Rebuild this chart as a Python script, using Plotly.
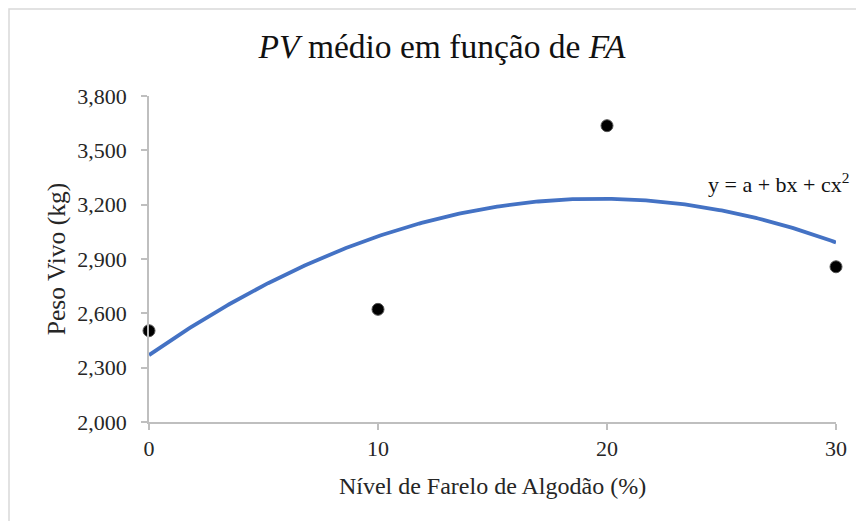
import numpy as np
import plotly.graph_objects as go

# Data
fa_levels = [0, 10, 20, 30]            # Nível de Farelo de Algodão (%)
pv_means = [2504, 2622, 3636, 2857]    # Peso Vivo médio (kg)
x_ticks = [0, 10, 20, 30]
y_ticks = [2000, 2300, 2600, 2900, 3200, 3500, 3800]

# Quadratic trendline (least squares fit of the points)
coef = np.polyfit(fa_levels, pv_means, 2)
x_fit = np.linspace(0, 30, 301)
y_fit = np.polyval(coef, x_fit)

FONT = "Liberation Serif"
OFF = 8  # page body margin
L, R, T, B = 149 - OFF, 864 - 836 + OFF, 96 - OFF, 521 - 422 + OFF
W, H = 864, 521
pw, ph = W - L - R, H - T - B

def px_x(p):  # page pixel x -> paper
    return (p - OFF - L) / pw

def px_y(p):  # page pixel y -> paper
    return (H - B - (p - OFF)) / ph

fig = go.Figure()
fig.add_trace(go.Scatter(x=x_fit, y=y_fit, mode="lines",
                         line=dict(color="#4472C4", width=3.8),
                         hoverinfo="skip", showlegend=False))
fig.add_trace(go.Scatter(x=fa_levels, y=pv_means, mode="markers",
                         marker=dict(color="black", size=12,
                                     line=dict(color="#555555", width=1)),
                         cliponaxis=False, showlegend=False))

fig.update_layout(
    width=W, height=H,
    margin=dict(l=L, r=R, t=T, b=B),
    paper_bgcolor="white", plot_bgcolor="white",
    font=dict(family=FONT, color="#262626"),
    title=dict(text="<i>PV</i> médio em função de <i>FA</i>",
               x=(442 - OFF) / W, xanchor="center", y=1 - (46 - OFF) / H, yanchor="middle",
               font=dict(family=FONT, size=33.5, color="#111111")),
    xaxis=dict(range=[0, 30], tickvals=x_ticks, showgrid=False, zeroline=False,
               showline=True, linecolor="#BFBFBF", linewidth=1.5,
               ticks="outside", ticklen=6, tickcolor="#BFBFBF", tickwidth=1.5,
               tickfont=dict(size=22, family=FONT, color="#262626"),
               ticklabelstandoff=0,
               title=dict(text="Nível de Farelo de Algodão (%)", standoff=17,
                          font=dict(size=24, family=FONT, color="#262626"))),
    yaxis=dict(range=[2000, 3800], tickvals=y_ticks, tickformat=",d",
               showgrid=False, zeroline=False,
               showline=True, linecolor="#BFBFBF", linewidth=1.5,
               ticks="outside", ticklen=6, tickcolor="#BFBFBF", tickwidth=1.5,
               tickfont=dict(size=22, family=FONT, color="#262626"),
               ticklabelstandoff=10,
               title=dict(text="Peso Vivo (kg)", standoff=4,
                          font=dict(size=25.5, family=FONT, color="#262626"))),
    annotations=[dict(text="y = a + bx + cx<sup>2</sup>", xref="paper", yref="paper",
                      x=px_x(778), y=px_y(183),
                      xanchor="center", yanchor="middle", showarrow=False,
                      font=dict(size=22, family=FONT, color="#111111"))],
    shapes=[dict(type="rect", xref="paper", yref="paper",
                 x0=px_x(9), x1=px_x(880),
                 y0=px_y(540), y1=px_y(9),
                 line=dict(color="#D9D9D9", width=1.5), layer="below")],
)

fig.write_html("out.html")
